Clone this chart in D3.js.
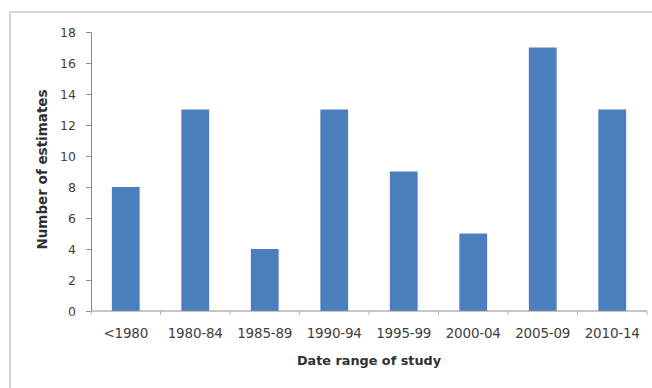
<!DOCTYPE html>
<html><head><meta charset="utf-8">
<script src="https://cdn.jsdelivr.net/npm/d3@7"></script>
<style>body{margin:0;background:#fff}svg{display:block}</style>
</head><body>
<script>
const categories = ["<1980","1980-84","1985-89","1990-94","1995-99","2000-04","2005-09","2010-14"];
const values = [8,13,4,13,9,5,17,13];
const yTicks = [0,2,4,6,8,10,12,14,16,18];
const xTitle = "Date range of study";
const yTitle = "Number of estimates";

const W = 652, H = 388;
const svg = d3.select("body").append("svg").attr("width", W).attr("height", H);
const font = "DejaVu Sans, sans-serif";

// outer frame
svg.append("rect").attr("x",10).attr("y",12).attr("width",W).attr("height",H)
  .attr("fill","#fff").attr("stroke","#d4d4d4").attr("stroke-width",2);

const mLeft = 91, mRight = 647, mTop = 32, mBottom = 311;
const x = d3.scaleBand().domain(categories).range([mLeft,mRight]).paddingInner(0.6).paddingOuter(0.3);
const y = d3.scaleLinear().domain([0,18]).range([mBottom,mTop]);

// bars
svg.append("g").selectAll("rect").data(values).join("rect")
  .attr("x",(d,i)=>x(categories[i])).attr("y",d=>y(d))
  .attr("width",x.bandwidth()).attr("height",d=>y(0)-y(d))
  .attr("fill","#4a7ebd");

// y axis
const yAxis = svg.append("g").attr("transform",`translate(${mLeft},0)`)
  .call(d3.axisLeft(y).tickValues(yTicks).tickSize(5).tickPadding(10));
yAxis.select(".domain").attr("stroke","#8c8c8c");
yAxis.selectAll(".tick line").attr("stroke","#8c8c8c");
yAxis.selectAll("text").attr("font-family",font).attr("font-size",12.5).attr("fill","#404040");

// x axis
const xAxis = svg.append("g").attr("transform",`translate(0,${mBottom})`);
xAxis.append("line").attr("x1",mLeft).attr("x2",mRight).attr("y1",0).attr("y2",0).attr("stroke","#8c8c8c");
const bounds = d3.range(categories.length+1).map(i=>mLeft+i*(mRight-mLeft)/categories.length);
xAxis.selectAll("line.tk").data(bounds).join("line").attr("class","tk")
  .attr("x1",d=>d).attr("x2",d=>d).attr("y1",0).attr("y2",4).attr("stroke","#b0b0b0");
xAxis.selectAll("text").data(categories).join("text")
  .attr("x",d=>x(d)+x.bandwidth()/2).attr("y",27).attr("text-anchor","middle")
  .attr("font-family",font).attr("font-size",13.5).attr("letter-spacing",-0.2).attr("fill","#404040").text(d=>d);

// titles
svg.append("text").attr("x",(mLeft+mRight)/2).attr("y",365).attr("text-anchor","middle")
  .attr("font-family",font).attr("font-weight","bold").attr("font-size",12.8).attr("fill","#303030").text(xTitle);
svg.append("text").attr("transform",`translate(47,${(mTop+mBottom)/2-2}) rotate(-90)`).attr("text-anchor","middle")
  .attr("font-family",font).attr("font-weight","bold").attr("font-size",13.5).attr("fill","#303030").text(yTitle);
</script>
</body></html>
